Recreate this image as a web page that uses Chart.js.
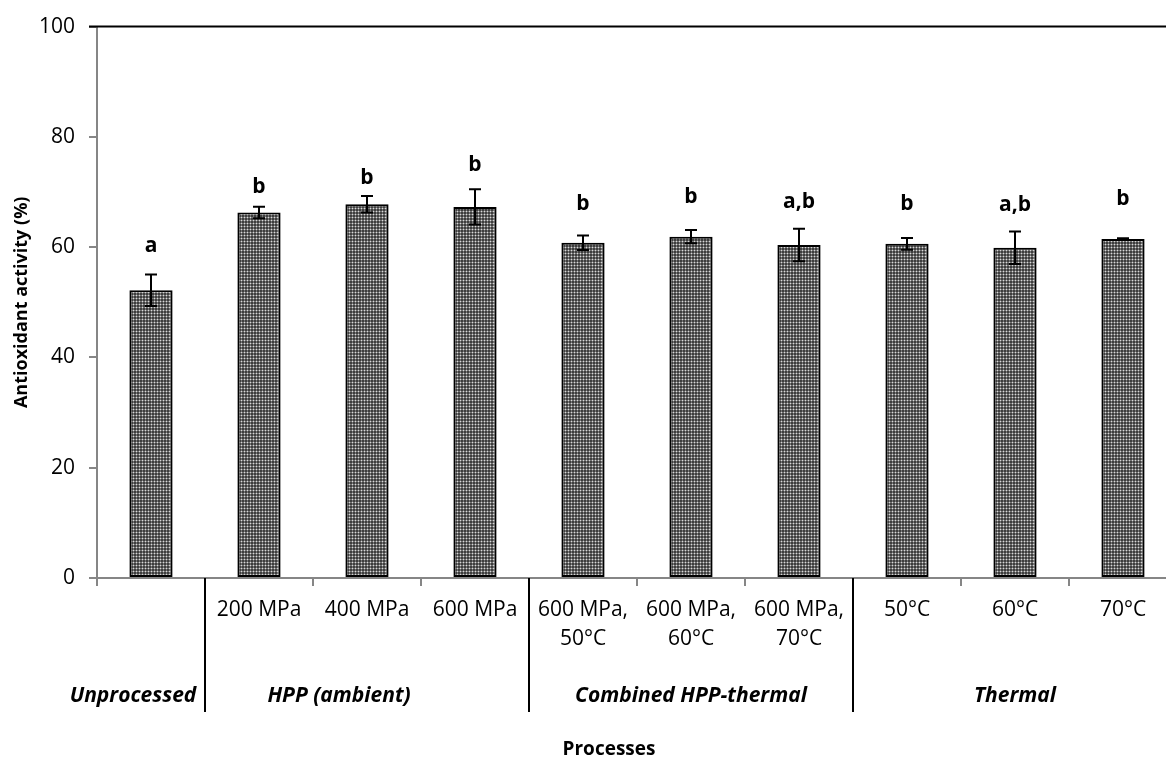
<!DOCTYPE html>
<html>
<head>
<meta charset="utf-8">
<script src="https://cdn.jsdelivr.net/npm/chart.js@4.4.0/dist/chart.umd.min.js"></script>
<style>
  html, body { margin: 0; padding: 0; background: #fff; overflow: hidden; }
  canvas { display: block; }
</style>
</head>
<body>
<canvas id="chart" width="1200" height="764"></canvas>
<script>
// values
const categories = ['', '200 MPa', '400 MPa', '600 MPa', ['600 MPa,', '50°C'], ['600 MPa,', '60°C'], ['600 MPa,', '70°C'], '50°C', '60°C', '70°C'];
const activity = [52.2, 66.3, 67.8, 67.3, 60.8, 61.9, 60.4, 60.6, 59.9, 61.5];
const errors = [2.85, 1.05, 1.5, 3.2, 1.3, 1.2, 2.95, 1.05, 2.95, 0.1];
const letters = ['a', 'b', 'b', 'b', 'b', 'b', 'a,b', 'b', 'a,b', 'b'];
const letterLevels = [60.2, 70.9, 72.6, 74.9, 67.9, 69.1, 68.2, 67.9, 67.7, 68.8];
const groupNames = ['Unprocessed', 'HPP (ambient)', 'Combined HPP-thermal', 'Thermal'];
const groupStarts = [0, 1, 4, 7];
const groupEnds = [0, 3, 6, 9];
const yTicks = [0, 20, 40, 60, 80, 100];

const FONT = "'Open Sans', sans-serif";
const AXIS_GREY = '#868686';

// small dotted fill like the excel pattern
function makePattern() {
    const c = document.createElement('canvas');
    c.width = 3;
    c.height = 3;
    const g = c.getContext('2d');
    g.fillStyle = '#3e3e3e';
    g.fillRect(0, 0, 3, 3);
    g.fillStyle = '#767676';
    g.fillRect(1, 0, 1, 1);
    g.fillRect(0, 1, 1, 1);
    g.fillRect(2, 1, 1, 1);
    g.fillRect(1, 2, 1, 1);
    g.fillStyle = '#d8d8d8';
    g.fillRect(1, 1, 1, 1);
    return g.createPattern(c, 'repeat');
}

const extras = {
    id: 'extras',
    afterDatasetsDraw(chart) {
        const ctx = chart.ctx;
        const x = chart.scales.x;
        const y = chart.scales.y;
        const area = chart.chartArea;
        ctx.save();

        // top border line
        ctx.strokeStyle = '#000';
        ctx.lineWidth = 2;
        ctx.beginPath();
        ctx.moveTo(area.left - 8, y.getPixelForValue(100));
        ctx.lineTo(chart.width, y.getPixelForValue(100));
        ctx.stroke();

        // error bars
        ctx.lineWidth = 2;
        activity.forEach((v, i) => {
            const px = x.getPixelForValue(i);
            const hi = y.getPixelForValue(v + errors[i]);
            const lo = y.getPixelForValue(v - errors[i]);
            ctx.beginPath();
            ctx.moveTo(px, hi);
            ctx.lineTo(px, lo);
            ctx.moveTo(px - 6, hi);
            ctx.lineTo(px + 6, hi);
            ctx.moveTo(px - 6, lo);
            ctx.lineTo(px + 6, lo);
            ctx.stroke();
        });

        // significance letters
        ctx.fillStyle = '#000';
        ctx.font = 'bold 21px ' + FONT;
        ctx.textAlign = 'center';
        ctx.textBaseline = 'middle';
        letters.forEach((t, i) => {
            ctx.fillText(t, x.getPixelForValue(i), y.getPixelForValue(letterLevels[i]));
        });

        // group separators and labels
        const half = (x.getPixelForValue(1) - x.getPixelForValue(0)) / 2;
        ctx.lineWidth = 2;
        ctx.strokeStyle = '#000';
        for (let g = 1; g < groupStarts.length; g++) {
            const bx = Math.round(x.getPixelForValue(groupStarts[g]) - half);
            ctx.beginPath();
            ctx.moveTo(bx, area.bottom);
            ctx.lineTo(bx, area.bottom + 134);
            ctx.stroke();
        }
        ctx.font = 'italic bold 21px ' + FONT;
        groupNames.forEach((name, g) => {
            let cx = (x.getPixelForValue(groupStarts[g]) + x.getPixelForValue(groupEnds[g])) / 2;
            if (g === 0) cx -= 18;
            if (g === 1) cx -= 28;
            ctx.fillText(name, cx, area.bottom + 118);
        });

        // x axis title
        ctx.font = 'bold 19px ' + FONT;
        ctx.fillText('Processes', 609, area.bottom + 172);
        ctx.restore();
    }
};

new Chart(document.getElementById('chart'), {
    type: 'bar',
    data: {
        labels: categories,
        datasets: [{
            data: activity,
            backgroundColor: makePattern(),
            borderColor: '#000',
            borderWidth: 2,
            borderSkipped: false,
            barPercentage: 0.4,
            categoryPercentage: 1
        }]
    },
    options: {
        responsive: false,
        animation: false,
        devicePixelRatio: 1,
        layout: { padding: { top: 22, right: 23, left: 0, bottom: 0 } },
        plugins: {
            legend: { display: false },
            tooltip: { enabled: false }
        },
        scales: {
            x: {
                offset: true,
                grid: {
                    offset: true,
                    drawOnChartArea: false,
                    color: AXIS_GREY,
                    lineWidth: 2,
                    tickLength: 8
                },
                border: { color: AXIS_GREY, width: 2 },
                ticks: {
                    color: '#000',
                    padding: 10,
                    maxRotation: 0,
                    autoSkip: false,
                    font: { family: FONT, size: 21, lineHeight: '29px' }
                },
                afterFit(scale) { scale.height = 186; }
            },
            y: {
                min: yTicks[0],
                max: yTicks[yTicks.length - 1],
                ticks: {
                    stepSize: yTicks[1] - yTicks[0],
                    color: '#000',
                    padding: 14,
                    font: { family: FONT, size: 21 }
                },
                grid: {
                    drawOnChartArea: false,
                    color: AXIS_GREY,
                    lineWidth: 2,
                    tickLength: 8
                },
                border: { color: AXIS_GREY, width: 2 },
                title: {
                    display: true,
                    text: 'Antioxidant activity (%)',
                    color: '#000',
                    padding: { top: 11, bottom: 0 },
                    font: { family: FONT, size: 18, weight: 'bold' }
                },
                afterFit(scale) { scale.width = 97; }
            }
        }
    },
    plugins: [extras]
});
</script>
</body>
</html>
